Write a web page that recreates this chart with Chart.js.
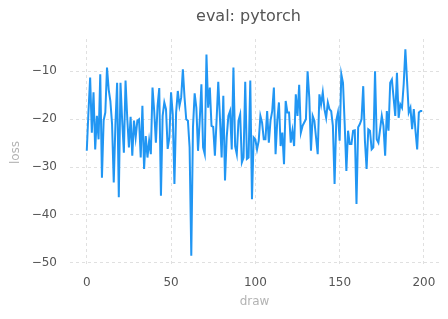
<!DOCTYPE html>
<html>
<head>
<meta charset="utf-8">
<script src="https://cdn.jsdelivr.net/npm/chart.js@4"></script>
<style>
html,body{margin:0;padding:0;background:#fff;}
#wrap{width:448px;height:319px;}
</style>
</head>
<body>
<div id="wrap"><canvas id="c" width="448" height="319"></canvas></div>
<script>
const titleText = "eval: pytorch";
const xLabel = "draw";
const yLabel = "loss";
const xTicks = [0, 50, 100, 150, 200];
const yTicks = [-50, -40, -30, -20, -10];
const loss = [
  -26.6, -18.5, -11.3, -22.8, -14.4, -26.3, -19.3, -24.2, -10.6, -32.2,
  -20.3, -18.6, -9.2, -13.8, -16.2, -21.0, -33.2, -21.0, -12.4, -36.3,
  -12.4, -20.3, -27.0, -11.9, -19.7, -25.9, -19.5, -27.6, -20.3, -23.8,
  -20.3, -20.0, -28.0, -17.2, -30.4, -23.5, -28.0, -24.5, -27.3, -13.4,
  -18.3, -24.9, -17.2, -13.5, -36.0, -19.3, -16.5, -17.9, -26.2, -23.8,
  -14.4, -19.0, -33.5, -18.6, -14.1, -17.2, -15.5, -9.6, -15.5, -20.0,
  -20.3, -25.9, -48.5, -21.7, -14.6, -17.6, -26.6, -20.3, -12.7, -25.9,
  -27.3, -6.5, -17.6, -13.4, -21.4, -21.6, -27.6, -20.3, -12.2, -19.7,
  -28.0, -15.1, -32.8, -23.8, -19.3, -18.3, -26.3, -9.2, -25.6, -27.3,
  -20.3, -19.0, -29.0, -28.0, -12.2, -28.3, -28.0, -11.9, -36.7, -23.8,
  -24.2, -26.3, -24.5, -19.3, -20.7, -24.2, -24.2, -18.3, -24.9, -20.3,
  -18.3, -13.4, -27.3, -20.3, -16.5, -25.6, -22.8, -29.4, -16.2, -18.6,
  -18.6, -24.9, -22.4, -25.6, -14.8, -19.3, -12.8, -22.8, -21.4, -20.7,
  -20.0, -10.0, -15.5, -26.6, -19.3, -20.3, -23.8, -27.3, -14.8, -16.9,
  -14.4, -17.9, -19.7, -16.5, -17.9, -18.3, -21.4, -33.5, -20.3, -18.6,
  -24.5, -10.6, -12.4, -21.0, -30.8, -22.4, -25.2, -25.2, -22.4, -22.3,
  -37.7, -21.7, -21.0, -20.0, -13.1, -24.5, -30.4, -22.1, -22.4, -26.3,
  -25.9, -10.0, -24.2, -24.9, -22.1, -19.3, -21.4, -27.6, -18.3, -22.4,
  -12.4, -11.7, -15.5, -19.3, -10.3, -19.7, -16.9, -17.6, -12.7, -5.4,
  -12.0, -18.6, -17.6, -22.1, -17.9, -22.4, -26.3, -18.6, -18.3, -18.3
];
const draws = loss.map((_, i) => i);

const FONT = "'DejaVu Sans', sans-serif";
const tickColor = "#555555";
const labelColor = "#b3b3b3";
const gridColor = "#e0e0e0";

const titlePlugin = {
  id: 'customTitle',
  afterDraw(chart) {
    const ctx = chart.ctx;
    const a = chart.chartArea;
    ctx.save();
    ctx.font = "16px " + FONT;
    ctx.fillStyle = "#555555";
    ctx.textAlign = "center";
    ctx.textBaseline = "middle";
    ctx.fillText(titleText, (a.left + a.right) / 2 - 6, 17);
    ctx.restore();
  }
};

new Chart(document.getElementById('c'), {
  type: 'line',
  data: {
    datasets: [{
      data: loss.map((v, i) => ({ x: draws[i], y: v })),
      borderColor: '#2196f3',
      borderWidth: 2,
      pointRadius: 0,
      tension: 0,
      fill: false
    }]
  },
  options: {
    responsive: false,
    animation: false,
    devicePixelRatio: 1,
    layout: { padding: { top: 39, right: 9, left: 0, bottom: 0 } },
    plugins: {
      legend: { display: false },
      tooltip: { enabled: false },
      title: { display: false }
    },
    scales: {
      x: {
        type: 'linear',
        min: -9.95,
        max: 208.95,
        afterBuildTicks(s) { s.ticks = xTicks.map(v => ({ value: v })); },
        afterFit(s) { s.height = 53; },
        border: { display: false, dash: [3, 3] },
        grid: { color: gridColor, lineWidth: 1, drawTicks: false },
        ticks: {
          color: tickColor,
          font: { family: FONT, size: 12 },
          padding: 10,
          maxRotation: 0,
          callback: v => String(v).replace('-', '\u2212')
        },
        title: {
          display: true,
          text: xLabel,
          color: labelColor,
          font: { family: FONT, size: 12 },
          padding: { top: 4, bottom: 10 }
        }
      },
      y: {
        type: 'linear',
        min: -50.65,
        max: -3.25,
        afterBuildTicks(s) { s.ticks = yTicks.map(v => ({ value: v })); },
        afterFit(s) { s.width = 70; },
        border: { display: false, dash: [3, 3] },
        grid: { color: gridColor, lineWidth: 1, drawTicks: false },
        ticks: {
          color: tickColor,
          font: { family: FONT, size: 12 },
          padding: 13,
          callback: v => String(v).replace('-', '\u2212')
        },
        title: {
          display: true,
          text: yLabel,
          color: labelColor,
          font: { family: FONT, size: 12 },
          padding: { top: 9, bottom: 0 }
        }
      }
    }
  },
  plugins: [titlePlugin]
});
</script>
</body>
</html>
